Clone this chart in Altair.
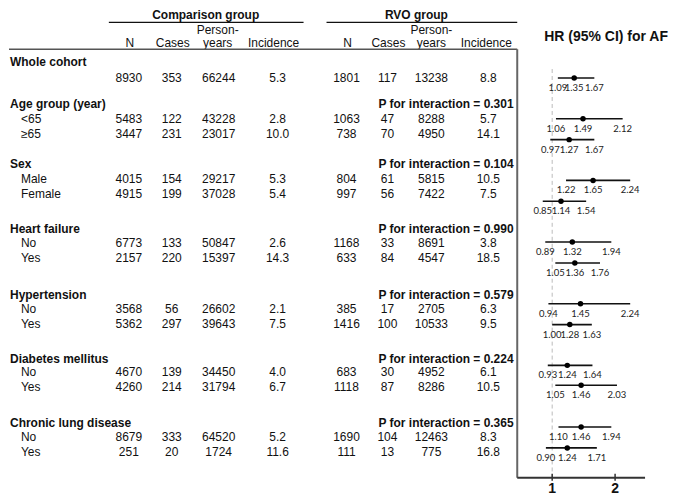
import altair as alt
import pandas as pd

# ---------------- data ----------------
groups = ["Whole cohort", "Age group (year)", "Sex", "Heart failure",
          "Hypertension", "Diabetes mellitus", "Chronic lung disease"]
p_interaction = ["", "0.301", "0.104", "0.990", "0.579", "0.224", "0.365"]
subgroups = ["", "<65", "≥65", "Male", "Female", "No", "Yes",
             "No", "Yes", "No", "Yes", "No", "Yes"]

comp_n = [8930, 5483, 3447, 4015, 4915, 6773, 2157, 3568, 5362, 4670, 4260, 8679, 251]
comp_cases = [353, 122, 231, 154, 199, 133, 220, 56, 297, 139, 214, 333, 20]
comp_py = [66244, 43228, 23017, 29217, 37028, 50847, 15397, 26602, 39643, 34450, 31794, 64520, 1724]
comp_inc = ["5.3", "2.8", "10.0", "5.3", "5.4", "2.6", "14.3", "2.1", "7.5", "4.0", "6.7", "5.2", "11.6"]

rvo_n = [1801, 1063, 738, 804, 997, 1168, 633, 385, 1416, 683, 1118, 1690, 111]
rvo_cases = [117, 47, 70, 61, 56, 33, 84, 17, 100, 30, 87, 104, 13]
rvo_py = [13238, 8288, 4950, 5815, 7422, 8691, 4547, 2705, 10533, 4952, 8286, 12463, 775]
rvo_inc = ["8.8", "5.7", "14.1", "10.5", "7.5", "3.8", "18.5", "6.3", "9.5", "6.1", "10.5", "8.3", "16.8"]

hr = [1.35, 1.49, 1.27, 1.65, 1.14, 1.32, 1.36, 1.45, 1.28, 1.24, 1.46, 1.46, 1.24]
hr_lower = [1.09, 1.06, 0.97, 1.22, 0.85, 0.89, 1.05, 0.94, 1.00, 0.93, 1.05, 1.10, 0.90]
hr_upper = [1.67, 2.12, 1.67, 2.24, 1.54, 1.94, 1.76, 2.24, 1.63, 1.64, 2.03, 1.94, 1.71]

col_headers = ["N", "Cases", "years", "Incidence"]
hr_ticks = [1, 2]

# ---------------- layout ----------------
W, H = 669, 484
TX = alt.Scale(domain=[3, 3 + W], nice=False, zero=False)          # table columns
FX = alt.Scale(domain=[1 + (3 - 547) / 63, 1 + (3 + W - 547) / 63],  # hazard ratio
               nice=False, zero=False)
YS = alt.Scale(domain=[6, 492], reverse=True, nice=False, zero=False)

GROUP_Y = [57, 99, 160, 225, 291, 356, 420]
ROW_Y = [73, 114, 129, 175, 190, 239, 254, 305, 320, 369, 384, 434, 449]
FOREST_Y = [73, 114, 135, 176, 197, 238, 259, 300, 321, 362, 382, 424, 445]
COMP_X = [123, 166, 213, 272]
RVO_X = [341, 382, 426, 483]
HDR_X_COMP = [124, 167, 212, 268]
HDR_X_RVO = [342, 383, 426, 481]
AX_MIN, AX_MAX, AX_Y, REF_TOP = 1 + (512 - 547) / 63, 1 + (640 - 547) / 63, 475, 64

FONT = "Liberation Sans, Arial, sans-serif"
NUMFONT = "Liberation Sans Narrow, Lato, sans-serif"


def enc_t(**kw):
    return dict(x=alt.X("x:Q", scale=TX, axis=None),
                y=alt.Y("y:Q", scale=YS, axis=None),
                **kw)


def enc_f(**kw):
    return dict(x=alt.X("x:Q", scale=FX, axis=None),
                y=alt.Y("y:Q", scale=YS, axis=None),
                **kw)


# table cells
cells = []
for i in range(len(subgroups)):
    vals = [comp_n[i], comp_cases[i], comp_py[i], comp_inc[i],
            rvo_n[i], rvo_cases[i], rvo_py[i], rvo_inc[i]]
    for v, x in zip(vals, COMP_X + RVO_X):
        cells.append({"x": x, "y": ROW_Y[i], "text": str(v)})
for t, x in zip(col_headers, HDR_X_COMP):
    cells.append({"x": x, "y": 38, "text": t})
for t, x in zip(col_headers, HDR_X_RVO):
    cells.append({"x": x, "y": 38, "text": t})
cells.append({"x": HDR_X_COMP[2], "y": 25, "text": "Person-"})
cells.append({"x": HDR_X_RVO[2], "y": 25, "text": "Person-"})
cells_df = pd.DataFrame(cells)

sub_df = pd.DataFrame([{"x": 15, "y": ROW_Y[i], "text": s}
                       for i, s in enumerate(subgroups) if s])
grp_df = pd.DataFrame([{"x": 4, "y": GROUP_Y[i], "text": g} for i, g in enumerate(groups)])
p_df = pd.DataFrame([{"x": 373, "y": GROUP_Y[i], "text": "P for interaction = " + p}
                     for i, p in enumerate(p_interaction) if p])
head_df = pd.DataFrame([{"x": 200, "y": 10, "text": "Comparison group"},
                        {"x": 411, "y": 10, "text": "RVO group"}])
title_df = pd.DataFrame([{"x": 601, "y": 32, "text": "HR (95% CI) for AF"}])

underline_df = pd.DataFrame([{"x": 103, "x2": 298, "y": 17},
                             {"x": 321, "x2": 512, "y": 17}])
frame_df = pd.DataFrame([{"x": 3, "x2": 512, "y": 44}])

forest_df = pd.DataFrame({"x": hr, "lo": hr_lower, "hi": hr_upper, "y": FOREST_Y})
lab_rows = []
for i in range(len(hr)):
    for v in (hr_lower[i], hr[i], hr_upper[i]):
        lab_rows.append({"x": v, "y": FOREST_Y[i] + 10, "text": f"{v:.2f}"})
lab_df = pd.DataFrame(lab_rows)

ref_df = pd.DataFrame([{"x": 1, "y": REF_TOP, "y2": AX_Y}])
vaxis_df = pd.DataFrame([{"x": AX_MIN, "y": 44, "y2": AX_Y}])
haxis_df = pd.DataFrame([{"x": AX_MIN, "x2": AX_MAX, "y": AX_Y}])
tick_df = pd.DataFrame([{"x": t, "y": AX_Y - 4, "y2": AX_Y + 3} for t in hr_ticks])
ticklab_df = pd.DataFrame([{"x": t, "y": AX_Y + 11, "text": str(t)} for t in hr_ticks])

layers = [
    alt.Chart(cells_df).mark_text(font=FONT, fontSize=12, color="#111", align="center", baseline="middle")
    .encode(**enc_t(text="text:N")),
    alt.Chart(sub_df).mark_text(font=FONT, fontSize=12, color="#111", align="left", baseline="middle")
    .encode(**enc_t(text="text:N")),
    alt.Chart(grp_df).mark_text(font=FONT, fontSize=12, fontWeight="bold", color="#111", align="left", baseline="middle")
    .encode(**enc_t(text="text:N")),
    alt.Chart(p_df).mark_text(font=FONT, fontSize=12, fontWeight="bold", color="#111", align="left", baseline="middle")
    .encode(**enc_t(text="text:N")),
    alt.Chart(head_df).mark_text(font=FONT, fontSize=12, fontWeight="bold", color="#111", align="center", baseline="middle")
    .encode(**enc_t(text="text:N")),
    alt.Chart(title_df).mark_text(font=FONT, fontSize=14, fontWeight="bold", color="#111", align="center", baseline="middle")
    .encode(**enc_t(text="text:N")),
    alt.Chart(underline_df).mark_rule(color="#111", strokeWidth=1.3)
    .encode(**enc_t(x2="x2:Q")),
    alt.Chart(frame_df).mark_rule(color="#555", strokeWidth=1.5)
    .encode(**enc_t(x2="x2:Q")),
    # forest
    alt.Chart(ref_df).mark_rule(color="#bbbbbb", strokeWidth=1, strokeDash=[4, 3])
    .encode(**enc_f(y2="y2:Q")),
    alt.Chart(vaxis_df).mark_rule(color="#666", strokeWidth=2)
    .encode(**enc_f(y2="y2:Q")),
    alt.Chart(haxis_df).mark_rule(color="#333", strokeWidth=2)
    .encode(**enc_f(x2="x2:Q")),
    alt.Chart(tick_df).mark_rule(color="#333", strokeWidth=1.5)
    .encode(**enc_f(y2="y2:Q")),
    alt.Chart(ticklab_df).mark_text(font=FONT, fontSize=14, fontWeight="bold", color="#111", baseline="middle")
    .encode(**enc_f(text="text:N")),
    alt.Chart(forest_df).mark_rule(color="#111", strokeWidth=1.6)
    .encode(x=alt.X("lo:Q", scale=FX, axis=None), x2="hi:Q",
            y=alt.Y("y:Q", scale=YS, axis=None)),
    alt.Chart(forest_df).mark_point(filled=True, color="#000", size=30, opacity=1)
    .encode(**enc_f()),
    alt.Chart(lab_df).mark_text(font=NUMFONT, fontSize=9.5, color="#222", baseline="middle")
    .encode(**enc_f(text="text:N")),
]

chart = (
    alt.layer(*layers)
    .resolve_scale(x="independent")
    .properties(width=W, height=H, padding=0, background="white")
    .configure_view(stroke=None)
)

chart.save("out.html", embed_options={"renderer": "svg", "actions": False})
